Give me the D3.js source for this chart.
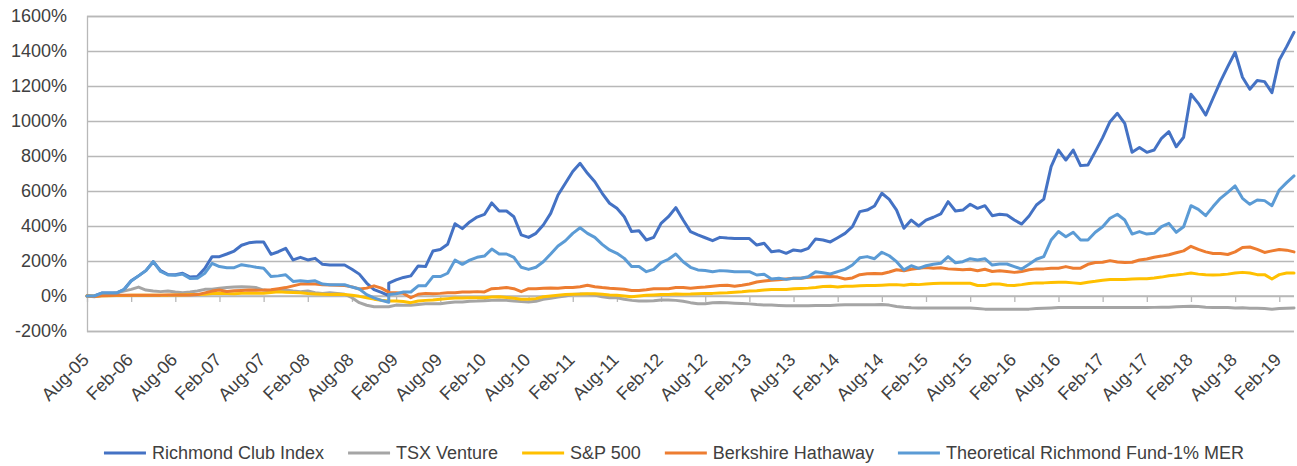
<!DOCTYPE html>
<html>
<head>
<meta charset="utf-8">
<script src="https://cdn.jsdelivr.net/npm/d3@7"></script>
<style>
  body { margin: 0; background: #fff; }
  text { font-family: "Liberation Sans", Arial, sans-serif; fill: #404040; }
</style>
</head>
<body>
<div id="container"></div>
<script>
// Chart size and plot box
const width = 1297;
const height = 466;
const marginTop = 16;
const marginLeft = 87;
const plotRight = 1294;
const plotBottom = 331;

// Months covered (monthly readings, Jan-09 has two readings)
const firstMonth = "2005-08";
const lastMonth = "2019-04";
const repeatedMonth = "2009-01";

// Cumulative return, %
const richmondClub = [0, 0, 17, 17, 17, 36, 87, 115, 145, 196, 145, 123, 121, 130, 108, 111, 157, 225, 225, 240,
  257, 290, 304, 309, 309, 238, 253, 272, 206, 221, 206, 215, 181, 177, 177, 177, 153, 125, 74, 36,
  21, 2, 74, 92, 106, 115, 172, 168, 257, 266, 296, 413, 385, 423, 451, 466, 532, 486, 486, 453,
  349, 335, 358, 406, 472, 577, 644, 711, 758, 701, 653, 587, 530, 501, 453, 368, 373, 320, 335, 415,
  453, 505, 434, 368, 349, 333, 316, 335, 331, 328, 328, 328, 291, 301, 253, 259, 244, 263, 257, 272,
  326, 320, 309, 333, 358, 396, 482, 491, 514, 587, 552, 491, 387, 434, 400, 434, 450, 469, 539, 486,
  491, 524, 501, 516, 459, 467, 463, 434, 411, 457, 520, 554, 739, 834, 777, 834, 745, 749, 825, 905,
  996, 1044, 987, 821, 848, 821, 834, 901, 939, 853, 907, 1153, 1101, 1034, 1130, 1225, 1311, 1393, 1250, 1181,
  1231, 1225, 1162, 1349, 1425, 1507];

const tsxVenture = [0, -4, 4, 10, 19, 29, 38, 51, 34, 29, 25, 29, 23, 19, 23, 29, 38, 38, 44, 48,
  51, 53, 51, 48, 34, 29, 34, 34, 29, 25, 29, 19, 15, 19, 15, 10, -10, -38, -53, -61,
  -61, -61, -61, -52, -53, -53, -48, -44, -44, -44, -38, -34, -34, -30, -29, -27, -25, -23, -25, -29,
  -32, -34, -30, -19, -13, -6, 0, 8, 11, 10, 6, -4, -10, -10, -19, -25, -29, -29, -27, -23,
  -23, -25, -30, -38, -44, -44, -38, -37, -39, -41, -43, -45, -49, -52, -52, -54, -56, -56, -56, -56,
  -54, -54, -54, -52, -50, -50, -50, -50, -50, -49, -52, -60, -64, -67, -69, -69, -69, -69, -69, -69,
  -69, -69, -71, -75, -75, -75, -75, -75, -75, -75, -72, -70, -68, -66, -66, -66, -66, -66, -66, -66,
  -66, -65, -66, -66, -66, -66, -65, -64, -64, -62, -60, -58, -60, -64, -66, -66, -66, -68, -67, -70,
  -70, -72, -76, -72, -70, -68];

const sp500 = [0, -2, 1, 2, 3, 3, 4, 4, 4, 4, 5, 5, 6, 6, 8, 8, 10, 14, 16, 14,
  13, 15, 17, 16, 16, 20, 24, 22, 20, 18, 14, 12, 10, 8, 10, 8, 4, -2, -10, -18,
  -24, -28, -28, -29, -32, -38, -29, -25, -23, -19, -15, -11, -11, -10, -10, -10, -6, -4, -8, -13,
  -19, -19, -15, -4, 0, 4, 8, 10, 11, 13, 13, 10, 6, 4, 0, -4, 0, 4, 6, 8,
  8, 11, 10, 11, 13, 15, 15, 17, 19, 22, 24, 28, 30, 34, 37, 37, 37, 41, 43, 45,
  49, 54, 56, 52, 56, 56, 58, 60, 60, 62, 64, 65, 62, 67, 65, 69, 71, 73, 73, 73,
  73, 73, 60, 60, 69, 69, 62, 60, 65, 71, 75, 75, 77, 79, 79, 75, 71, 79, 84, 90,
  94, 94, 94, 97, 99, 99, 103, 108, 116, 120, 125, 131, 125, 122, 120, 122, 125, 131, 135, 131,
  122, 122, 97, 122, 131, 131];

const berkshire = [0, -3, 2, 3, 4, 4, 5, 5, 5, 5, 5, 6, 6, 6, 6, 8, 18, 28, 34, 26,
  30, 32, 34, 33, 34, 36, 42, 48, 58, 68, 70, 68, 64, 63, 62, 60, 52, 40, 45, 58,
  45, 22, 20, 19, 15, -10, 10, 15, 13, 15, 19, 19, 23, 23, 25, 23, 42, 44, 48, 42,
  25, 42, 42, 44, 46, 44, 48, 48, 53, 61, 53, 48, 44, 42, 38, 32, 32, 36, 42, 42,
  42, 48, 48, 44, 48, 51, 56, 60, 62, 56, 62, 69, 80, 86, 90, 93, 97, 101, 101, 107,
  108, 110, 112, 108, 97, 103, 122, 127, 129, 127, 137, 150, 144, 153, 159, 163, 159, 161, 155, 153,
  150, 153, 144, 153, 140, 144, 140, 135, 140, 150, 155, 155, 159, 159, 168, 159, 159, 181, 191, 193,
  202, 194, 191, 193, 206, 211, 221, 228, 236, 247, 258, 284, 266, 252, 243, 243, 237, 252, 277, 280,
  266, 249, 258, 266, 262, 252];

const theoreticalFund = [0, 0, 17, 17, 17, 36, 85, 115, 145, 196, 140, 120, 118, 125, 100, 102, 130, 187, 168, 162,
  162, 179, 172, 164, 158, 111, 115, 121, 83, 87, 83, 87, 68, 64, 64, 64, 51, 40, 8, -11,
  -25, -36, 8, 13, 23, 23, 58, 58, 111, 111, 130, 205, 181, 205, 221, 228, 268, 240, 240, 221,
  164, 152, 164, 196, 240, 286, 316, 358, 390, 358, 335, 295, 263, 244, 215, 168, 168, 139, 152, 191,
  210, 240, 196, 164, 149, 146, 139, 145, 143, 139, 139, 139, 120, 124, 97, 101, 95, 101, 101, 110,
  139, 133, 126, 139, 152, 177, 218, 225, 213, 250, 230, 196, 149, 173, 158, 173, 181, 187, 225, 190,
  196, 213, 206, 213, 177, 183, 183, 168, 154, 181, 210, 225, 320, 368, 339, 364, 320, 320, 364, 396,
  444, 467, 434, 354, 368, 354, 358, 396, 415, 364, 396, 516, 495, 459, 511, 558, 592, 629, 558, 524,
  549, 545, 516, 606, 648, 686];

const seriesNames = ["Richmond Club Index", "TSX Venture", "S&P 500", "Berkshire Hathaway", "Theoretical Richmond Fund-1% MER"];
const seriesValues = [richmondClub, tsxVenture, sp500, berkshire, theoreticalFund];
const seriesColours = ["#4472c4", "#a5a5a5", "#ffc000", "#ed7d31", "#5b9bd5"];

const yTicks = [-200, 0, 200, 400, 600, 800, 1000, 1200, 1400, 1600];

// Build the month list (month offset from the first month)
const parseMonth = d3.utcParse("%Y-%m");
const start = parseMonth(firstMonth);
const months = d3.utcMonth.range(start, d3.utcMonth.offset(parseMonth(lastMonth), 1));
const repeatAt = months.findIndex(d => +d === +parseMonth(repeatedMonth));
months.splice(repeatAt, 0, months[repeatAt]);
const monthOffset = months.map(d => d3.utcMonth.count(start, d));
const lastOffset = monthOffset[monthOffset.length - 1];

// Scales
const x = d3.scaleLinear().domain([0, lastOffset]).range([marginLeft, plotRight]);
const y = d3.scaleLinear().domain([-200, 1600]).range([plotBottom, marginTop]);

const svg = d3.create("svg").attr("width", width).attr("height", height);
document.getElementById("container").appendChild(svg.node());
svg.append("rect").attr("width", width).attr("height", height).attr("fill", "#fff");

// Horizontal gridlines + y labels
const yAxis = svg.append("g")
  .attr("transform", `translate(${marginLeft},0)`)
  .call(d3.axisLeft(y).tickValues(yTicks).tickSize(-(plotRight - marginLeft)).tickFormat(d => d + "%").tickPadding(20));
yAxis.select(".domain").attr("stroke", "#b8b8b8").attr("stroke-width", 1.3);
yAxis.selectAll(".tick line").attr("stroke", "#b8b8b8").attr("stroke-width", 1.3);
yAxis.selectAll(".tick text").attr("font-size", 18).attr("font-family", null).attr("fill", "#404040");

// Category axis at 0%
const tickOffsets = d3.range(0, lastOffset + 1, 6);
const fmt = d3.utcFormat("%b-%y");
const xAxis = svg.append("g")
  .attr("transform", `translate(0,${y(0)})`)
  .call(d3.axisBottom(x).tickValues(tickOffsets).tickSize(6).tickFormat(""));
xAxis.select(".domain").attr("stroke", "#b8b8b8").attr("stroke-width", 1.3).attr("d", `M${marginLeft},0H${plotRight}`);
xAxis.selectAll(".tick line").attr("stroke", "#b8b8b8").attr("stroke-width", 1.3);

// Rotated month labels below the plot
svg.append("g")
  .selectAll("text")
  .data(tickOffsets)
  .join("text")
  .attr("transform", d => `translate(${x(d) + 3},361) rotate(-45)`)
  .attr("text-anchor", "end")
  .attr("font-size", 18)
  .text(d => fmt(d3.utcMonth.offset(start, d)));

// Lines
const line = d3.line()
  .x((d, i) => x(monthOffset[i]))
  .y(d => y(d));

svg.append("g")
  .selectAll("path")
  .data(seriesValues)
  .join("path")
  .attr("fill", "none")
  .attr("stroke", (d, i) => seriesColours[i])
  .attr("stroke-width", 3)
  .attr("stroke-linejoin", "round")
  .attr("stroke-linecap", "round")
  .attr("d", line);

// Legend
const legend = svg.append("g").attr("transform", "translate(0,453)");
const items = legend.selectAll("g")
  .data(seriesNames)
  .join("g");
items.append("line")
  .attr("x1", 0).attr("x2", 42)
  .attr("stroke", (d, i) => seriesColours[i])
  .attr("stroke-width", 3);
items.append("text")
  .attr("x", 48)
  .attr("dy", "0.35em")
  .attr("font-size", 18)
  .text(d => d);

let cursor = 0;
const offsets = [];
items.each(function () {
  offsets.push(cursor);
  const w = d3.select(this).select("text").node().getComputedTextLength();
  cursor += 48 + w + 24;
});
const legendWidth = cursor - 24;
const legendStart = 674 - legendWidth / 2;
items.attr("transform", (d, i) => `translate(${legendStart + offsets[i]},0)`);
</script>
</body>
</html>
